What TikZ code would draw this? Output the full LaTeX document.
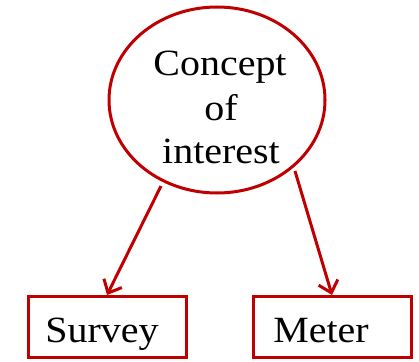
\documentclass[tikz,border=0pt]{standalone}
\usepackage{fontspec}
\setmainfont[FakeStretch=1.08]{Liberation Serif}
\usetikzlibrary{arrows.meta,shapes.geometric}
\definecolor{dred}{HTML}{C00000}
\begin{document}
\begin{tikzpicture}[x=1pt,y=-1pt,
  txt/.style={font=\fontsize{37}{44}\selectfont, text=black, anchor=base, inner sep=0pt},
  ell/.style={ellipse, draw=dred, line width=3pt, minimum width=216pt, minimum height=186pt},
  box/.style={rectangle, draw=dred, line width=3pt, minimum width=158pt, minimum height=61pt, inner sep=0pt},
  arr/.style={draw=dred, line width=3pt, -{Straight Barb[length=11pt,width=20pt,line width=3pt]}}]
\useasboundingbox (0,0) rectangle (419,361);
\node[ell] (c) at (217,100) {};
\node[txt] (t1) at (220,75) {Concept};
\node[txt] (t2) at (221,120) {of};
\node[txt] (t3) at (221,163) {interest};
\node[box] (s) at (107,327) {};
\node[box] (m) at (332,327) {};
\node[txt] (st) at (102,342) {Survey};
\node[txt] (mt) at (321,342) {Meter};
\coordinate (a1) at (161,186);
\coordinate (a2) at (295,171);
\draw[arr] (a1) -- (s.north);
\draw[arr] (a2) -- (m.north);
\end{tikzpicture}
\end{document}
